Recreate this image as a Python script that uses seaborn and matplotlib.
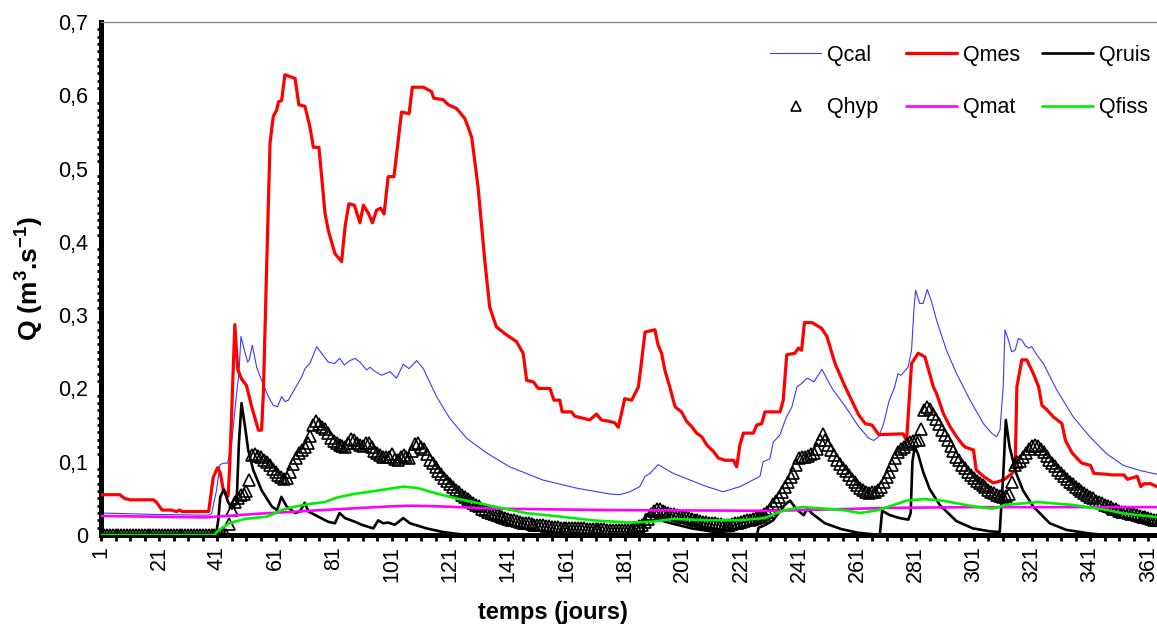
import numpy as np
import pandas as pd
import matplotlib
matplotlib.use("Agg")
import matplotlib.pyplot as plt
import seaborn as sns
from matplotlib.lines import Line2D
from matplotlib.ticker import FixedLocator, MultipleLocator, FuncFormatter

# ---------------- data ----------------
qcal_day = [1, 20, 37.9, 39, 40.7, 41.9, 43, 44.5, 45.9, 47.6, 48.4, 49.1, 50.3, 51.4, 51.9, 53, 54.5, 56.2,
            58.5, 60.2, 61.7, 63.1, 64.2, 65.4, 67.7, 70, 71.1, 72.8, 75.1, 76.8, 79.1, 81.2, 83.1, 84.6,
            86.6, 88.3, 90, 92.3, 93.4, 95.2, 97.5, 100.3, 102.6, 104.9, 106.9, 109.5, 111.8, 116.3, 120.9,
            126.7, 133.5, 141.5, 152.9, 164.4, 175.8, 179.3, 182.8, 186.2, 188, 189.7, 192.5, 197.7, 209.2,
            214.9, 220.6, 224.1, 227.5, 228.6, 230.9, 232.1, 234.3, 236.6, 238.5, 240.2, 241.9, 243.7, 244.8,
            246, 248.8, 252.3, 256.9, 261.4, 264.9, 266.6, 268.3, 270, 271.8, 273.8, 274.9, 276, 278.4,
            279.6, 280.4, 281, 282.4, 283.6, 285, 286.5, 288.2, 291.6, 295.1, 299.7, 304.3, 307.1, 308.8,
            310, 311.1, 311.7, 312.9, 314, 315.2, 316.3, 317.5, 318.6, 319.8, 320.9, 322.6, 324.9, 329.5,
            335.2, 340.9, 346.6, 352.4, 358.1, 365]
qcal_val = [0.030, 0.028, 0.027, 0.029, 0.061, 0.096, 0.098, 0.098, 0.125, 0.193, 0.220, 0.271, 0.252, 0.236,
            0.238, 0.259, 0.229, 0.211, 0.189, 0.177, 0.175, 0.189, 0.182, 0.184, 0.200, 0.216, 0.227, 0.234,
            0.257, 0.248, 0.236, 0.234, 0.241, 0.232, 0.238, 0.241, 0.236, 0.225, 0.229, 0.223, 0.218, 0.223,
            0.214, 0.233, 0.227, 0.238, 0.227, 0.189, 0.159, 0.132, 0.112, 0.093, 0.075, 0.064, 0.056, 0.055,
            0.059, 0.066, 0.080, 0.084, 0.096, 0.084, 0.066, 0.059, 0.066, 0.073, 0.080, 0.100, 0.104, 0.127,
            0.136, 0.161, 0.175, 0.202, 0.207, 0.214, 0.212, 0.209, 0.226, 0.200, 0.175, 0.148, 0.132, 0.129,
            0.134, 0.152, 0.182, 0.202, 0.220, 0.218, 0.229, 0.252, 0.307, 0.334, 0.316, 0.316, 0.335, 0.318,
            0.293, 0.252, 0.220, 0.184, 0.152, 0.139, 0.134, 0.143, 0.202, 0.280, 0.266, 0.250, 0.252, 0.268,
            0.266, 0.259, 0.255, 0.257, 0.246, 0.234, 0.198, 0.161, 0.134, 0.111, 0.095, 0.088, 0.082]

qmes_day = [1, 7.5, 9, 11, 19, 20, 22, 25, 27, 28, 29, 38, 39.6, 41.1, 42, 43, 44.7, 45.3, 47, 48, 49.3, 51,
            52.8, 55.1, 56.2, 56.8, 58, 59.1, 60.2, 61.4, 62, 63.1, 64.2, 67.7, 69, 71.1, 72.8, 74, 75.9, 78,
            79.1, 81.4, 83.7, 84.9, 86.2, 88.1, 90, 91.2, 92.9, 94.3, 95.7, 97.1, 98.3, 99.7, 101.7, 104.3,
            106.9, 108, 111.8, 114.6, 115.4, 118.6, 120.4, 123.2, 126.1, 128.4, 130.6, 132.9, 134.6, 136.9,
            140.4, 143.8, 146.1, 147.3, 149.6, 151.3, 155.3, 156.7, 158.7, 159.5, 162.7, 163.9, 169, 171.3,
            173, 175.9, 177.6, 178.8, 179.9, 181, 183.4, 185.7, 186.6, 188, 191.4, 192.5, 193.7, 194.8, 196.5,
            198.3, 200.5, 202.3, 204, 205.7, 207.5, 209.2, 211.5, 213.2, 215.5, 218.4, 219.5, 220.6, 221.8,
            225.2, 226.4, 228.1, 229.2, 234.4, 235.5, 236.7, 239.5, 240.7, 241.8, 242.8, 245.3, 248.7, 250.5,
            253.3, 256.8, 261.4, 263.7, 266, 268.3, 276.7, 277.9, 279.6, 281.9, 284.2, 287.1, 288.2, 290.5,
            292.8, 295.1, 296.8, 298, 300.9, 301.8, 304.3, 307.7, 311.2, 314.1, 315.2, 315.8, 317.5, 319.2,
            321.5, 323.3, 324.4, 326.1, 328.4, 331.3, 332.5, 334.8, 337.1, 338.2, 341.1, 342.3, 346.3, 348.6,
            352.6, 353.8, 357.2, 358.4, 359.5, 361.8, 365]
qmes_val = [0.055, 0.055, 0.050, 0.048, 0.048, 0.045, 0.034, 0.034, 0.032, 0.034, 0.032, 0.032, 0.079, 0.092,
            0.085, 0.062, 0.053, 0.100, 0.287, 0.226, 0.213, 0.204, 0.175, 0.143, 0.143, 0.193, 0.375, 0.535,
            0.571, 0.580, 0.591, 0.593, 0.628, 0.623, 0.587, 0.585, 0.557, 0.529, 0.529, 0.439, 0.416, 0.384,
            0.373, 0.421, 0.452, 0.450, 0.426, 0.450, 0.439, 0.426, 0.443, 0.446, 0.438, 0.489, 0.489, 0.577,
            0.575, 0.611, 0.611, 0.605, 0.596, 0.594, 0.587, 0.582, 0.568, 0.543, 0.475, 0.375, 0.311, 0.284,
            0.273, 0.264, 0.248, 0.211, 0.209, 0.200, 0.200, 0.184, 0.184, 0.168, 0.168, 0.162, 0.157, 0.165,
            0.157, 0.155, 0.153, 0.147, 0.166, 0.186, 0.184, 0.202, 0.230, 0.277, 0.280, 0.259, 0.248, 0.225,
            0.202, 0.175, 0.168, 0.155, 0.148, 0.139, 0.134, 0.123, 0.114, 0.105, 0.102, 0.102, 0.093, 0.123,
            0.139, 0.139, 0.150, 0.152, 0.168, 0.168, 0.184, 0.246, 0.248, 0.255, 0.252, 0.290, 0.290, 0.282,
            0.271, 0.234, 0.202, 0.164, 0.152, 0.150, 0.137, 0.138, 0.129, 0.234, 0.248, 0.243, 0.202, 0.193,
            0.166, 0.148, 0.134, 0.125, 0.120, 0.116, 0.089, 0.080, 0.071, 0.075, 0.084, 0.089, 0.202, 0.239,
            0.239, 0.220, 0.202, 0.177, 0.171, 0.161, 0.152, 0.129, 0.112, 0.102, 0.098, 0.095, 0.084, 0.083,
            0.082, 0.082, 0.076, 0.080, 0.066, 0.070, 0.070, 0.064]

qruis_day = [1, 40.5, 41.3, 42, 43.2, 44.7, 46, 47.6, 48.4, 49.3, 50.5, 51.6, 53.3, 56.2, 59.7, 61.5, 63, 64.8,
             67.7, 69.4, 71, 72.3, 75.7, 79.1, 81.4, 83, 84.9, 88.3, 90.6, 94.6, 96.3, 98, 99.7, 102, 104.9,
             107.2, 112.9, 118.6, 124.4, 130, 187.2, 188.2, 190, 195, 204, 215.5, 226.5, 227, 229, 232, 236,
             237.8, 240.1, 242.5, 243.8, 245.5, 249.8, 255.5, 261.3, 268.7, 269.5, 272.2, 275.6, 278.5, 279.3,
             279.9, 280.7, 281.8, 283.6, 285.8, 289.3, 295, 300.7, 306.5, 309.9, 311.1, 312, 313.3, 315.6,
             317.9, 321.4, 327.1, 332.8, 340.8, 346.6, 365]
qruis_val = [0.0, 0.0, 0.020, 0.052, 0.062, 0.045, 0.036, 0.043, 0.125, 0.180, 0.148, 0.116, 0.089, 0.061,
             0.039, 0.034, 0.052, 0.039, 0.030, 0.032, 0.044, 0.032, 0.025, 0.018, 0.016, 0.030, 0.023, 0.018,
             0.014, 0.009, 0.020, 0.016, 0.017, 0.014, 0.023, 0.016, 0.009, 0.004, 0.001, 0.0, 0.0, 0.028,
             0.026, 0.018, 0.009, 0.002, 0.0, 0.010, 0.013, 0.020, 0.041, 0.047, 0.035, 0.027, 0.036, 0.029,
             0.016, 0.008, 0.003, 0.0, 0.033, 0.027, 0.023, 0.021, 0.030, 0.100, 0.120, 0.111, 0.086, 0.063,
             0.041, 0.019, 0.009, 0.005, 0.004, 0.080, 0.157, 0.120, 0.084, 0.061, 0.039, 0.016, 0.007, 0.002,
             0.0, 0.0]

qhyp_val = [
    0, 0, 0, 0, 0, 0, 0, 0, 0, 0,
    0, 0, 0, 0, 0, 0, 0, 0, 0, 0,
    0, 0, 0, 0, 0, 0, 0, 0, 0, 0,
    0, 0, 0, 0, 0, 0, 0, 0, 0, 0,
    0, 0, 0, 0, 0.015, 0.034, 0.045, 0.050, 0.054, 0.056,
    0.060, 0.075, 0.109, 0.110, 0.108, 0.106, 0.103, 0.099, 0.095, 0.090,
    0.086, 0.082, 0.079, 0.077, 0.078, 0.086, 0.097, 0.105, 0.112, 0.116,
    0.120, 0.126, 0.135, 0.150, 0.155, 0.151, 0.148, 0.145, 0.139, 0.133,
    0.128, 0.125, 0.123, 0.121, 0.120, 0.125, 0.131, 0.130, 0.125, 0.123,
    0.122, 0.126, 0.125, 0.120, 0.115, 0.112, 0.109, 0.107, 0.106, 0.106,
    0.111, 0.104, 0.102, 0.106, 0.109, 0.107, 0.105, 0.114, 0.124, 0.125,
    0.120, 0.117, 0.110, 0.103, 0.098, 0.093, 0.087, 0.083, 0.078, 0.074,
    0.070, 0.066, 0.062, 0.058, 0.055, 0.052, 0.049, 0.046, 0.043, 0.041,
    0.039, 0.036, 0.034, 0.032, 0.030, 0.029, 0.027, 0.026, 0.024, 0.023,
    0.022, 0.021, 0.020, 0.019, 0.018, 0.017, 0.016, 0.016, 0.015, 0.014,
    0.014, 0.013, 0.013, 0.012, 0.012, 0.011, 0.011, 0.011, 0.010, 0.010,
    0.010, 0.010, 0.009, 0.009, 0.009, 0.009, 0.009, 0.008, 0.008, 0.008,
    0.008, 0.008, 0.008, 0.008, 0.007, 0.007, 0.007, 0.007, 0.007, 0.007,
    0.007, 0.007, 0.007, 0.008, 0.010, 0.012, 0.014, 0.018, 0.022, 0.028,
    0.033, 0.036, 0.035, 0.033, 0.031, 0.030, 0.029, 0.028, 0.027, 0.026,
    0.025, 0.024, 0.023, 0.022, 0.021, 0.020, 0.019, 0.018, 0.018, 0.017,
    0.016, 0.016, 0.015, 0.015, 0.014, 0.014, 0.014, 0.015, 0.016, 0.017,
    0.018, 0.019, 0.020, 0.021, 0.022, 0.023, 0.024, 0.026, 0.029, 0.032,
    0.036, 0.042, 0.047, 0.052, 0.058, 0.065, 0.072, 0.079, 0.085, 0.095,
    0.105, 0.107, 0.107, 0.108, 0.110, 0.112, 0.118, 0.130, 0.138, 0.130,
    0.123, 0.116, 0.109, 0.103, 0.097, 0.092, 0.087, 0.082, 0.077, 0.072,
    0.068, 0.064, 0.061, 0.059, 0.057, 0.058, 0.059, 0.061, 0.066, 0.072,
    0.079, 0.086, 0.095, 0.105, 0.113, 0.117, 0.120, 0.124, 0.127, 0.128,
    0.129, 0.130, 0.145, 0.170, 0.175, 0.172, 0.165, 0.158, 0.151, 0.143,
    0.136, 0.129, 0.122, 0.114, 0.107, 0.102, 0.096, 0.091, 0.086, 0.082,
    0.078, 0.074, 0.071, 0.068, 0.065, 0.062, 0.059, 0.057, 0.055, 0.053,
    0.052, 0.053, 0.056, 0.072, 0.095, 0.099, 0.101, 0.106, 0.112, 0.118,
    0.121, 0.123, 0.121, 0.118, 0.113, 0.108, 0.103, 0.098, 0.094, 0.089,
    0.085, 0.080, 0.076, 0.073, 0.070, 0.066, 0.063, 0.060, 0.057, 0.054,
    0.052, 0.050, 0.047, 0.045, 0.043, 0.041, 0.040, 0.038, 0.036, 0.035,
    0.033, 0.032, 0.031, 0.030, 0.029, 0.028, 0.027, 0.026, 0.025, 0.024,
    0.023, 0.022, 0.021, 0.020, 0.020]
qhyp_day = list(range(1, 366))

qmat_day = [1, 37, 55, 77, 100, 108, 118, 136, 175, 232, 272, 300, 365]
qmat_val = [0.026, 0.024, 0.029, 0.034, 0.039, 0.040, 0.039, 0.036, 0.034, 0.033, 0.037, 0.038, 0.038]

qfiss_day = [1, 40, 41, 45, 50.5, 58, 61, 63, 68, 72, 78, 82, 88, 95, 100, 105, 110, 116, 124, 136, 147, 159,
             170, 182, 190, 198, 209, 220, 229, 236, 242, 250, 256, 262, 268, 272, 278, 284, 290, 301, 307.6,
             312, 323, 335, 347, 353, 365]
qfiss_val = [0.0, 0.0, 0.005, 0.016, 0.022, 0.025, 0.030, 0.034, 0.039, 0.042, 0.045, 0.051, 0.056, 0.060,
             0.063, 0.066, 0.064, 0.057, 0.049, 0.039, 0.030, 0.025, 0.020, 0.017, 0.018, 0.022, 0.020, 0.020,
             0.023, 0.034, 0.038, 0.036, 0.034, 0.030, 0.034, 0.039, 0.047, 0.049, 0.047, 0.039, 0.036, 0.041,
             0.045, 0.041, 0.034, 0.029, 0.024]

x_ticks = list(range(1, 366, 20))
y_ticks = [0, 0.1, 0.2, 0.3, 0.4, 0.5, 0.6, 0.7]

# ---------------- style ----------------
sns.set_theme(style="white")
plt.rcParams["font.family"] = ["Liberation Sans", "DejaVu Sans"]
plt.rcParams["mathtext.fontset"] = "custom"
plt.rcParams["mathtext.bf"] = "Liberation Sans:bold"
plt.rcParams["mathtext.rm"] = "Liberation Sans"

W, H = 1157, 630
fig = plt.figure(figsize=(W / 100, H / 100), dpi=100)
ax = fig.add_axes([101 / W, (H - 535) / H, 1059 / W, 513 / H])

C_CAL, C_MES, C_RUIS, C_MAT, C_FISS = "#3a3aff", "#ff0000", "#000000", "#ff00ff", "#00ee00"
MS, MEW = 8, 1.2

sns.lineplot(x=qcal_day, y=qcal_val, ax=ax, color=C_CAL, linewidth=0.8, estimator=None, zorder=2)
sns.lineplot(x=qmes_day, y=qmes_val, ax=ax, color=C_MES, linewidth=2.3, estimator=None, zorder=3)
sns.lineplot(x=qruis_day, y=qruis_val, ax=ax, color=C_RUIS, linewidth=1.9, estimator=None, zorder=4)
sns.lineplot(x=qhyp_day, y=qhyp_val, ax=ax, linestyle="none", marker="^", markersize=MS,
             markerfacecolor="none", markeredgecolor="black", markeredgewidth=MEW,
             estimator=None, zorder=5)
sns.lineplot(x=qmat_day, y=qmat_val, ax=ax, color=C_MAT, linewidth=1.9, estimator=None, zorder=6)
sns.lineplot(x=qfiss_day, y=qfiss_val, ax=ax, color=C_FISS, linewidth=1.9, estimator=None, zorder=7)

ax.set_xlim(1, 365)
ax.set_ylim(0, 0.7)
ax.grid(False)

ax.xaxis.set_major_locator(FixedLocator(x_ticks))
ax.xaxis.set_minor_locator(FixedLocator(list(range(1, 366, 5))))
ax.set_xticklabels([str(t) for t in x_ticks], rotation=90)
ax.yaxis.set_major_locator(FixedLocator(y_ticks))
ax.yaxis.set_minor_locator(MultipleLocator(0.01))
ax.yaxis.set_major_formatter(FuncFormatter(lambda v, p: "0" if abs(v) < 1e-9 else f"{v:.1f}".replace(".", ",")))

FS = 15.5
ax.tick_params(axis="both", which="both", direction="out", colors="black", labelsize=FS)
ax.tick_params(axis="y", which="major", length=6, width=2, pad=3)
ax.tick_params(axis="y", which="minor", length=3, width=2, left=True)
ax.tick_params(axis="x", which="both", length=4, width=2, pad=4, bottom=True)

for s in ["left", "bottom"]:
    ax.spines[s].set_color("black")
    ax.spines[s].set_linewidth(3.6)
ax.spines["top"].set_color("#808080")
ax.spines["top"].set_linewidth(0.9)
ax.spines["right"].set_visible(False)

ax.set_xlabel("temps (jours)", fontsize=17, fontweight="bold", color="black")
ax.xaxis.set_label_coords((553 - 101) / 1059, (535 - 601) / 513)
ax.set_ylabel(r"Q (m$^{\mathbf{3}}$.s$^{\mathbf{-1}}$)", fontsize=19, fontweight="bold", color="black")
ax.yaxis.set_label_coords((29 - 101) / 1059, 0.5)
ax.yaxis.label.set_va("center")

# legend: three columns, two rows
h_cal = Line2D([], [], color=C_CAL, lw=0.8)
h_mes = Line2D([], [], color=C_MES, lw=2.3)
h_ruis = Line2D([], [], color=C_RUIS, lw=1.9)
h_hyp = Line2D([], [], ls="none", marker="^", markersize=MS - 1, markerfacecolor="none",
               markeredgecolor="black", markeredgewidth=MEW)
h_mat = Line2D([], [], color=C_MAT, lw=1.9)
h_fiss = Line2D([], [], color=C_FISS, lw=1.9)

cols = [([h_cal, h_hyp], ["Qcal", "Qhyp"], 770),
        ([h_mes, h_mat], ["Qmes", "Qmat"], 906),
        ([h_ruis, h_fiss], ["Qruis", "Qfiss"], 1042)]
fs_px = FS * 100 / 72
for i, (hs, ls, xpx) in enumerate(cols):
    leg = fig.legend(hs, ls, loc="upper left", bbox_to_anchor=(xpx / W, 1 - 44.5 / H),
                     frameon=False, fontsize=FS, borderpad=0, borderaxespad=0,
                     handlelength=51 / fs_px, handletextpad=6 / fs_px, labelspacing=1.48,
                     numpoints=1)
    for t in leg.get_texts():
        t.set_color("black")

fig.savefig("out.png", dpi=100)
